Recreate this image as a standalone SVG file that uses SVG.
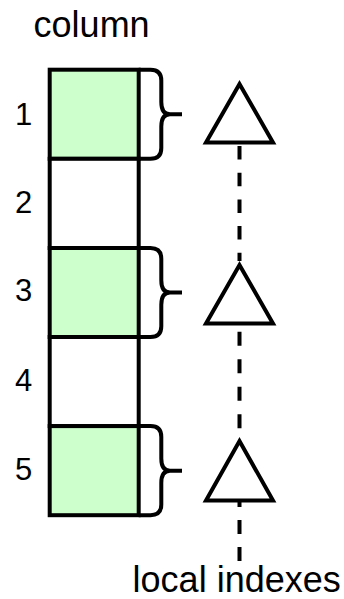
<svg xmlns="http://www.w3.org/2000/svg" width="344" height="599" viewBox="0 0 344 599">
  <style>
    .cell { stroke: #000; stroke-width: 4; }
    .green { fill: #CCFFCC; }
    .white { fill: #FFFFFF; }
    .brace { fill: none; stroke: #000; stroke-width: 4; stroke-linejoin: round; }
    .tri { fill: #FFFFFF; stroke: #000; stroke-width: 4; stroke-linejoin: miter; }
    .dash { fill: none; stroke: #000; stroke-width: 4; }
    .label { font-family: "Liberation Sans", Arial, Helvetica, sans-serif; font-size: 36px; fill: #000; }
    .num { font-family: "Liberation Sans", Arial, Helvetica, sans-serif; font-size: 31px; fill: #000; text-anchor: middle; }
  </style>
  <rect width="344" height="599" fill="#FFFFFF"/>

  <g id="title">
    <text class="label" x="33.6" y="37">column</text>
  </g>

  <g id="cell1">
    <rect class="cell green" x="49.7" y="69.7" width="89" height="89.1"/>
    <text class="num" x="23.5" y="124.5">1</text>
  </g>
  <g id="cell2">
    <rect class="cell white" x="49.7" y="158.8" width="89" height="89.2"/>
    <text class="num" x="23.5" y="212.8">2</text>
  </g>
  <g id="cell3">
    <rect class="cell green" x="49.7" y="248" width="89" height="89"/>
    <text class="num" x="23.5" y="301">3</text>
  </g>
  <g id="cell4">
    <rect class="cell white" x="49.7" y="337" width="89" height="89.1"/>
    <text class="num" x="23.5" y="390.5">4</text>
  </g>
  <g id="cell5">
    <rect class="cell green" x="49.7" y="426.1" width="89" height="89.1"/>
    <text class="num" x="23.5" y="480">5</text>
  </g>

  <g id="brace1">
    <path class="brace" d="M138.7,69.7 H150.5 Q161.3,69.7 161.3,80.5 V102 Q161.3,114.25 170,114.25 H182 M170,114.25 Q161.3,114.25 161.3,126.5 V148 Q161.3,158.8 150.5,158.8 H138.7"/>
  </g>
  <g id="brace3">
    <path class="brace" d="M138.7,248 H150.5 Q161.3,248 161.3,258.8 V280.3 Q161.3,292.5 170,292.5 H182 M170,292.5 Q161.3,292.5 161.3,304.7 V326.2 Q161.3,337 150.5,337 H138.7"/>
  </g>
  <g id="brace5">
    <path class="brace" d="M138.7,426.1 H150.5 Q161.3,426.1 161.3,436.9 V458.4 Q161.3,470.65 170,470.65 H182 M170,470.65 Q161.3,470.65 161.3,482.9 V504.4 Q161.3,515.2 150.5,515.2 H138.7"/>
  </g>

  <g id="connectors">
    <line class="dash" x1="239.5" y1="146" x2="239.5" y2="261" stroke-dasharray="13.5 13.2"/>
    <line class="dash" x1="239.5" y1="325.5" x2="239.5" y2="436" stroke-dasharray="14 13.5" stroke-dashoffset="21.3"/>
    <line class="dash" x1="239.5" y1="561" x2="239.5" y2="502" stroke-dasharray="14 13"/>
  </g>

  <g id="index1">
    <polygon class="tri" points="206,142.5 239.5,84 273,142.5"/>
  </g>
  <g id="index2">
    <polygon class="tri" points="206,323.5 239.5,265 273,323.5"/>
  </g>
  <g id="index3">
    <polygon class="tri" points="206,500.5 239.5,441 273,500.5"/>
  </g>

  <g id="footer">
    <text class="label" x="132.6" y="591.5">local indexes</text>
  </g>
</svg>
